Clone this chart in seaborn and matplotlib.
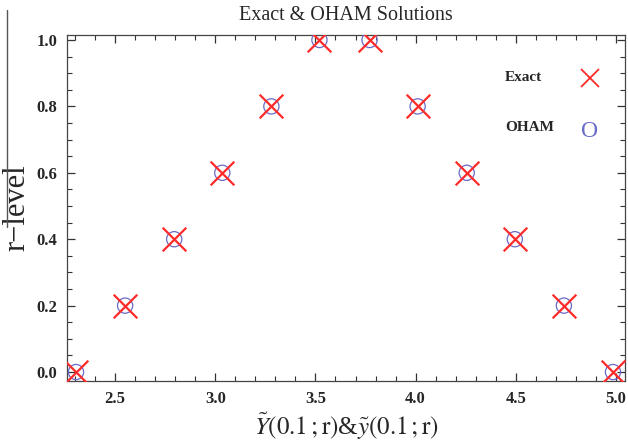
import numpy as np
import pandas as pd
import matplotlib
matplotlib.use("Agg")
import matplotlib.pyplot as plt
import seaborn as sns
from matplotlib.lines import Line2D
from matplotlib.ticker import MultipleLocator

# r-levels and the two branches (lower / upper)
r_levels = [0.0, 0.2, 0.4, 0.6, 0.8, 1.0]
exact_lower = [2.305, 2.55, 2.795, 3.035, 3.28, 3.52]
exact_upper = [4.985, 4.74, 4.495, 4.255, 4.01, 3.77]
oham_lower = [2.305, 2.55, 2.795, 3.035, 3.28, 3.52]
oham_upper = [4.985, 4.74, 4.495, 4.255, 4.01, 3.77]
legend_names = ["Exact", "OHAM"]

exact = pd.DataFrame({"x": exact_lower + exact_upper, "r": r_levels + r_levels})
oham = pd.DataFrame({"x": oham_lower + oham_upper, "r": r_levels + r_levels})

RED = "#ff2a2a"
BLUE = "#6a6ac8"

sns.set_style("ticks")
plt.rcParams["font.family"] = ["Liberation Serif", "DejaVu Serif"]
plt.rcParams["mathtext.fontset"] = "stix"

fig = plt.figure(figsize=(6.28, 4.44), dpi=100)
ax = fig.add_axes([67 / 628, 1 - 381 / 444, (625 - 67) / 628, (381 - 35) / 444])

sns.scatterplot(data=oham, x="x", y="r", ax=ax, marker="o", s=120,
                facecolors="none", edgecolor=BLUE, linewidth=0.9,
                legend=False, zorder=3)
sns.scatterplot(data=exact, x="x", y="r", ax=ax, marker="x", s=290,
                color=RED, linewidth=1.6, legend=False, zorder=4)

ax.set_xlim(2.26, 5.045)
ax.set_ylim(-0.027, 1.015)
ax.xaxis.set_major_locator(MultipleLocator(0.5))
ax.xaxis.set_minor_locator(MultipleLocator(0.1))
ax.yaxis.set_major_locator(MultipleLocator(0.2))
ax.yaxis.set_minor_locator(MultipleLocator(0.05))
ax.xaxis.set_major_formatter(plt.FormatStrFormatter("%.1f"))
ax.yaxis.set_major_formatter(plt.FormatStrFormatter("%.1f"))
ax.tick_params(which="both", direction="in", top=True, right=True,
               labeltop=False, labelright=False, color="#333333")
ax.tick_params(which="major", length=6, width=0.9, labelsize=12, pad=7)
ax.tick_params(which="minor", length=3.5, width=0.8)
for lab in ax.get_xticklabels() + ax.get_yticklabels():
    lab.set_fontweight("bold")
for sp in ax.spines.values():
    sp.set_color("#444444")
    sp.set_linewidth(0.9)

ax.set_title("Exact & OHAM Solutions", fontsize=14.5, pad=11)
ax.set_xlabel(r"$\tilde{Y}(0.1\,;\mathrm{r})$&$\tilde{y}(0.1\,;\mathrm{r})$",
              fontsize=18, labelpad=3)
ax.set_ylabel("r\u2212level", fontsize=22)
ax.yaxis.set_label_coords(-0.064, 0.5)

# legend: names on the left, symbols on the right
ax.text(0.785, 0.876, legend_names[0], transform=ax.transAxes,
        fontsize=11, fontweight="bold", va="center", ha="left")
ax.plot([0.937], [0.876], transform=ax.transAxes, marker="x", color=RED,
        markersize=13, markeredgewidth=1.3, linestyle="none")
ax.text(0.785, 0.734, legend_names[1], transform=ax.transAxes,
        fontsize=11, fontweight="bold", va="center", ha="left")
ax.text(0.937, 0.722, "O", transform=ax.transAxes, color=BLUE,
        fontsize=17, va="center", ha="center")

fig.add_artist(Line2D([7 / 628, 7 / 628], [1 - 10 / 444, 1 - 227 / 444],
                      color="#555555", linewidth=1.0))

fig.savefig("out.png", dpi=100)
